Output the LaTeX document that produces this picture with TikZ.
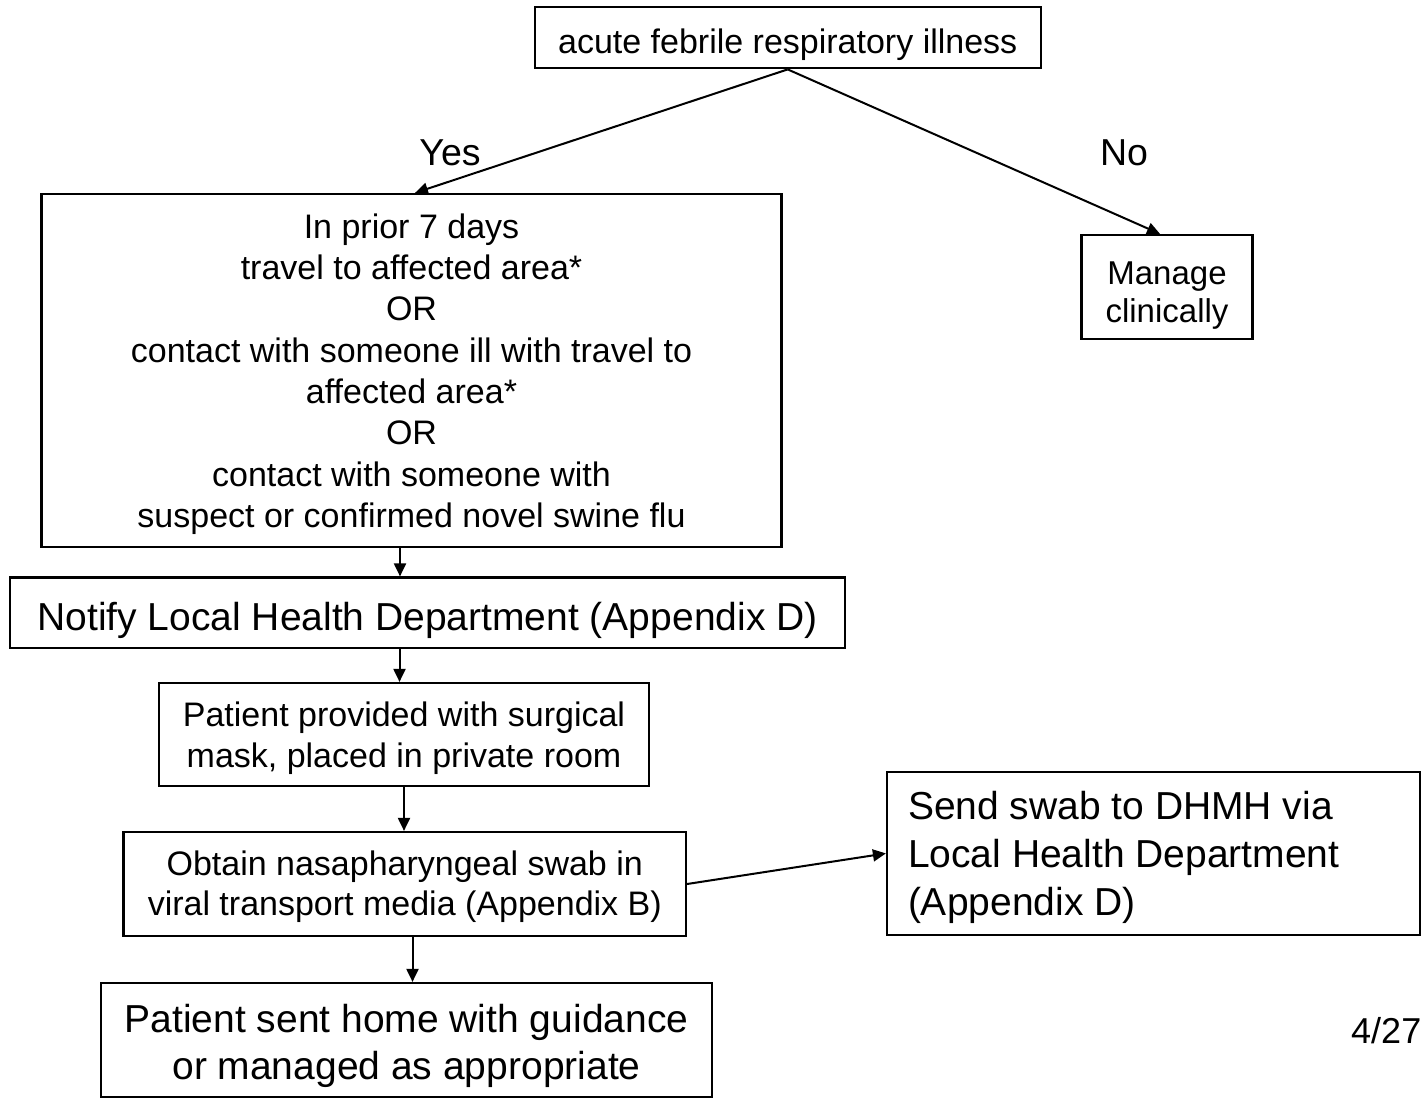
\documentclass[tikz,border=0pt]{standalone}
\usepackage{fontspec}
\setmainfont{Liberation Sans}
\usetikzlibrary{arrows.meta}
\newcommand\myTS[1]{\rule{0pt}{#1pt}}
\newcommand\myBS[1]{\rule[-#1pt]{0pt}{#1pt}}
\tikzset{
  box/.style={draw=black, line width=2.2pt, rectangle, inner sep=0pt, align=center},
  fsa/.style={font=\fontsize{34}{41.3}\selectfont},
  fsb/.style={font=\fontsize{39}{48}\selectfont},
  lbl/.style={font=\fontsize{37.5}{44}\selectfont, inner sep=0pt, anchor=base},
  arr/.style={line width=2pt, -{Triangle[length=13pt,width=12pt]}}
}
\begin{document}
\begin{tikzpicture}[x=1pt,y=-1pt]
\useasboundingbox[fill=white] (0,0) rectangle (1421,1098);
\node[box, fsa, minimum width=506, minimum height=61] (top) at (787.7,37.8)
  {\myTS{38.4}\myBS{8}acute febrile respiratory illness};
\node[box, fsa, minimum width=740, minimum height=353] (cond) at (411.5,370.5)
  {\myTS{32.2}In prior 7 days\\travel to affected area*\\OR\\contact with someone ill with travel to\\affected area*\\OR\\contact with someone with\\suspect or confirmed novel swine flu\myBS{7.5}};
\node[box, font=\fontsize{33}{38}\selectfont, minimum width=171, minimum height=104] (manage) at (1167,287)
  {\myTS{40}Manage\\clinically\myBS{8}};
\node[box, fsb, minimum width=835, minimum height=70.2] (notify) at (427.5,612.6)
  {\myTS{43.8}\myBS{9}Notify Local Health Department (Appendix D)};
\node[box, font=\fontsize{34}{41}\selectfont, minimum width=490, minimum height=103] (mask) at (404,734.5)
  {\myTS{32}Patient provided with surgical\\mask, placed in private room\myBS{8}};
\node[box, font=\fontsize{34}{40.5}\selectfont, minimum width=562.5, minimum height=104] (obtain) at (404.75,884)
  {\myTS{30.5}Obtain nasapharyngeal swab in\\viral transport media (Appendix B)\myBS{8}};
\node[box, font=\fontsize{39}{48}\selectfont, align=flush left, text width=491pt, inner xsep=21pt, inner ysep=0pt, minimum height=163.3] (send) at (1153.5,853.4)
  {\myTS{36.2}Send swab to DHMH via\\Local Health Department\\(Appendix D)\myBS{9}};
\node[box, font=\fontsize{39}{47}\selectfont, minimum width=611, minimum height=114] (home) at (406.5,1040)
  {\myTS{40}Patient sent home with guidance\\or managed as appropriate\myBS{9}};
\node[lbl] (yes) at (450,165) {Yes};
\node[lbl] (no) at (1124,165) {No};
\node[font=\fontsize{36}{42}\selectfont, inner sep=0pt, anchor=base west] (date) at (1351,1043) {4/27};
\draw[arr] (top.south) -- ([xshift=3.5]cond.north);
\draw[arr] (top.south) -- ([xshift=-7]manage.north);
\draw[arr] ([xshift=-11.5]cond.south) -- ([xshift=-11.5]cond.south |- notify.north);
\draw[arr] ([xshift=-4.5]mask.north |- notify.south) -- ([xshift=-4.5]mask.north);
\draw[arr] (mask.south) -- (mask.south |- obtain.north);
\draw[arr] ([xshift=6]home.north |- obtain.south) -- ([xshift=6]home.north);
\draw[arr] (obtain.east) -- (send.west);
\end{tikzpicture}
\end{document}
